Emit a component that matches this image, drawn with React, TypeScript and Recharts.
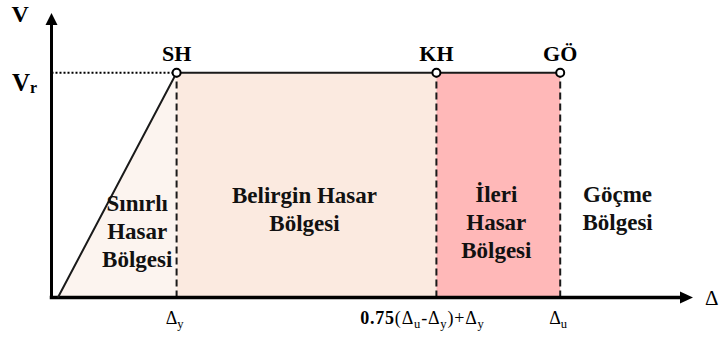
import React from "react";
import {
  ComposedChart, XAxis, YAxis, Area, Line, ReferenceArea, ReferenceLine, ReferenceDot,
} from "recharts";

// capacity curve (displacement vs. base shear), arbitrary units
const CURVE_D = [1, 19.5, 60, 79.3];
const CURVE_V = [0, 79, 79, 79];
const POINT_NAMES = ["", "SH", "KH", "GÖ"];
const VR = 79;
const X_MAX = 100;
const Y_MAX = 100;

// zone boundaries along the displacement axis
const ZONE_EDGES = [1, 19.5, 60, 79.3, 100];
const ZONE_NAMES = [
  ["Sınırlı", "Hasar", "Bölgesi"],
  ["Belirgin Hasar", "Bölgesi"],
  ["İleri", "Hasar", "Bölgesi"],
  ["Göçme", "Bölgesi"],
];

// tick labels: segments of [text, kind] where kind: n normal, s subscript, b bold
const X_TICKS = [19.5, 60, 79.3];
const X_TICK_LABELS: [string, string][][] = [
  [["Δ", "n"], ["y", "s"]],
  [["0.75", "b"], ["(Δ", "n"], ["u", "s"], ["-Δ", "n"], ["y", "s"], [")+Δ", "n"], ["y", "s"]],
  [["Δ", "n"], ["u", "s"]],
];

const data = CURVE_D.map((d, i) => ({
  d,
  v: CURVE_V[i],
  z1: i <= 1 ? CURVE_V[i] : null,
}));

const FONT = "Liberation Serif";
const ZONE_FILLS = ["#FCF4EF", "#FBEAE0", "#FFB8B8", "none"];
const ZONE_OFFSETS = [
  { dx: 20, dy: 138 },
  { dx: -2, dy: 130 },
  { dx: -2, dy: 129 },
  { dx: -9, dy: 129 },
];

function Segments({ parts, size }: { parts: [string, string][]; size: number }) {
  let shift = 0;
  return (
    <>
      {parts.map(([t, k], i) => {
        const target = k === "s" ? 4 : 0;
        const dy = target - shift;
        shift = target;
        return (
          <tspan
            key={i}
            dy={dy}
            fontSize={k === "s" ? size * 0.7 : size}
            fontWeight={k === "b" ? "bold" : "normal"}
          >
            {t}
          </tspan>
        );
      })}
    </>
  );
}

function XTick(props: any) {
  const { x, y, index } = props;
  const parts = X_TICK_LABELS[index] || [];
  const dx = index === 1 ? -14 : -2;
  return (
    <text
      x={x + dx}
      y={y + 18.5}
      textAnchor="middle"
      fontFamily={FONT}
      letterSpacing={index === 1 ? 0.8 : 0}
      fill="#000"
    >
      <Segments parts={parts} size={18} />
    </text>
  );
}

function YTick(props: any) {
  const { y } = props;
  return (
    <text x={12} y={y + 18} fontFamily={FONT} fontWeight="bold" fill="#000">
      <tspan fontSize={25}>V</tspan>
      <tspan fontSize={16} dy={2}>r</tspan>
    </text>
  );
}

function PointDot(props: any) {
  const { cx, cy, index } = props;
  if (!index) return <g key={`dot-${index}`} />;
  return (
    <g key={`dot-${index}`}>
      <text x={cx} y={cy - 12} textAnchor="middle" fontFamily={FONT} fontWeight="bold" fontSize={22} fill="#000">
        {POINT_NAMES[index]}
      </text>
      <circle cx={cx} cy={cy} r={4} fill="#fff" stroke="#000" strokeWidth={2} />
    </g>
  );
}

function zoneLabel(zi: number) {
  return (p: any) => {
    const { cx, cy } = p;
    const o = ZONE_OFFSETS[zi];
    return (
      <text textAnchor="middle" fontFamily={FONT} fontWeight="bold" fontSize={23} fill="#111">
        {ZONE_NAMES[zi].map((line, li) => (
          <tspan key={li} x={cx + o.dx} y={cy + o.dy + li * 28}>{line}</tspan>
        ))}
      </text>
    );
  };
}

const xArrow = (p: any) => (
  <g>
    <polygon points={`${p.cx},${p.cy} ${p.cx - 13},${p.cy - 6} ${p.cx - 13},${p.cy + 6}`} fill="#000" />
    <text x={p.cx + 12} y={p.cy + 7} fontFamily={FONT} fontSize={21} fill="#000">Δ</text>
  </g>
);

const yArrow = (p: any) => (
  <g>
    <polygon points={`${p.cx},${p.cy} ${p.cx - 6},${p.cy + 12} ${p.cx + 6},${p.cy + 12}`} fill="#000" />
    <text x={p.cx - 40} y={p.cy + 9} fontFamily={FONT} fontWeight="bold" fontSize={24} fill="#000">V</text>
  </g>
);

export default function App() {
  return (
    <div style={{ position: "absolute", left: 0, top: 0, background: "#fff", fontFamily: FONT }}>
      <ComposedChart
        width={722}
        height={339}
        data={data}
        margin={{ top: 13, right: 29, bottom: 0, left: 0 }}
      >
        <XAxis
          type="number"
          dataKey="d"
          domain={[0, X_MAX]}
          ticks={X_TICKS}
          interval={0}
          tick={(p: any) => <XTick {...p} />}
          axisLine={false}
          tickLine={false}
          height={41.5}
        />
        <YAxis
          type="number"
          domain={[0, Y_MAX]}
          ticks={[VR]}
          tick={(p: any) => <YTick {...p} />}
          axisLine={false}
          tickLine={false}
          width={51.5}
        />

        {[1, 2].map((zi) => (
          <ReferenceArea
            key={`za-${zi}`}
            x1={ZONE_EDGES[zi]}
            x2={ZONE_EDGES[zi + 1]}
            y1={0}
            y2={VR}
            fill={ZONE_FILLS[zi]}
            fillOpacity={1}
            stroke="none"
          />
        ))}

        <Area
          type="linear"
          dataKey="z1"
          fill={ZONE_FILLS[0]}
          fillOpacity={1}
          stroke="none"
          isAnimationActive={false}
        />

        <ReferenceLine
          segment={[{ x: 0, y: VR }, { x: CURVE_D[1], y: VR }]}
          stroke="#000"
          strokeWidth={2}
          strokeDasharray="2 2"
          ifOverflow="visible"
        />
        {X_TICKS.map((t) => (
          <ReferenceLine
            key={`dl-${t}`}
            segment={[{ x: t, y: 0 }, { x: t, y: VR }]}
            stroke="#1a1a1a"
            strokeWidth={2}
            strokeDasharray="7 4"
            ifOverflow="visible"
          />
        ))}

        <ReferenceLine
          segment={[{ x: 0, y: 0 }, { x: X_MAX - 1.5, y: 0 }]}
          stroke="#000"
          strokeWidth={3.5}
          strokeLinecap="square"
          ifOverflow="visible"
        />
        <ReferenceLine
          segment={[{ x: 0, y: 0 }, { x: 0, y: Y_MAX - 2 }]}
          stroke="#000"
          strokeWidth={3}
          ifOverflow="visible"
        />
        <ReferenceDot x={X_MAX} y={0} r={0} ifOverflow="visible" shape={xArrow} />
        <ReferenceDot x={0} y={Y_MAX} r={0} ifOverflow="visible" shape={yArrow} />

        <Line
          type="linear"
          dataKey="v"
          stroke="#1a1a1a"
          strokeWidth={2}
          dot={(p: any) => <PointDot {...p} />}
          activeDot={false}
          isAnimationActive={false}
        />

        {ZONE_NAMES.map((_, zi) => (
          <ReferenceDot
            key={`zl-${zi}`}
            x={(ZONE_EDGES[zi] + ZONE_EDGES[zi + 1]) / 2}
            y={VR}
            r={0}
            ifOverflow="visible"
            shape={zoneLabel(zi)}
          />
        ))}
      </ComposedChart>
    </div>
  );
}
